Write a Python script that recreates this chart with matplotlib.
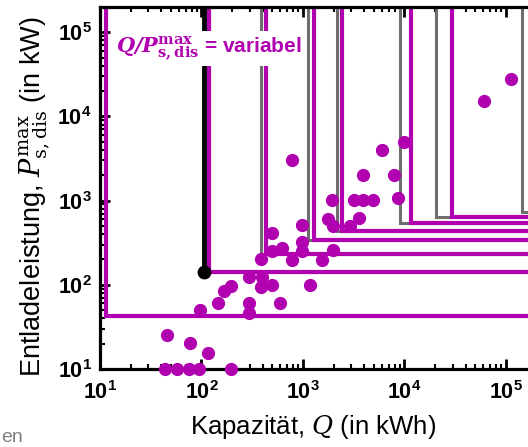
import matplotlib
matplotlib.use('Agg')
import matplotlib.pyplot as plt
import numpy as np

plt.rcParams['font.family'] = ['Liberation Sans', 'DejaVu Sans']
plt.rcParams['mathtext.fontset'] = 'custom'
plt.rcParams['mathtext.rm'] = 'DejaVu Serif'
plt.rcParams['mathtext.it'] = 'DejaVu Serif:italic'
plt.rcParams['mathtext.bf'] = 'DejaVu Serif:bold'
plt.rcParams['mathtext.sf'] = 'Liberation Sans:bold'
plt.rcParams['mathtext.bfit'] = 'DejaVu Serif:italic:bold'

MAGENTA = '#b000b0'
GRAY = '#6e6e6e'

# storage data points: capacity (kWh) and discharge power (kW)
cap = [112000, 60700, 9890, 6000, 780, 3900, 7890, 1930, 3180, 3900, 4900, 8630,
       1760, 1980, 2900, 3560, 977, 495, 977, 977, 621, 495, 385, 780, 1540, 1980,
       294, 394, 385, 495, 1170, 167, 195, 593, 96.6, 146, 294, 294,
       45.7, 77, 116, 43.6, 57.4, 75.4, 94.4, 195]
power = [27900, 15300, 4970, 3990, 3030, 2010, 2010, 1010, 1010, 1010, 1010, 1070,
         603, 497, 497, 620, 511, 410, 321, 250, 272, 250, 201, 196, 196, 258,
         123, 123, 93, 99, 99, 84, 96, 60, 49.7, 60, 60, 45.8,
         25.1, 20.1, 15.3, 10, 10, 10, 10, 10]

# corners of the L-shaped limits (Q, P)
mag_q = [11.5, 118.6, 431, 1283, 2421, 11590, 29400, 188700]
mag_p = [42.2, 141, 231, 339, 434, 540, 636, 730]
gray_q = [385, 1120, 2163, 9040, 20400, 143900]
gray_p = [231, 339, 434, 540, 636, 730]
black_q = 106
black_p = 141

xmin, xmax = 10, 10**5.5
ymin, ymax = 10, 10**5.3

fig = plt.figure(figsize=(5.28, 4.47), dpi=100)
ax = fig.add_axes([0.1894, 0.1745, 0.865, 0.8098])
ax.set_xscale('log')
ax.set_yscale('log')
ax.set_xlim(xmin, xmax)
ax.set_ylim(ymin, ymax)

for q, p in zip(gray_q, gray_p):
    ax.plot([q, q, xmax], [ymax, p, p], color=GRAY, lw=2.2, solid_joinstyle='miter')
for q, p in zip(mag_q, mag_p):
    ax.plot([q, q, xmax], [ymax, p, p], color=MAGENTA, lw=3.0, solid_joinstyle='miter')

ax.plot([black_q, black_q], [ymax, black_p], color='black', lw=3.5)
ax.plot([black_q], [black_p], 'o', color='black', ms=9)

ax.plot(cap, power, 'o', color=MAGENTA, ms=8.5, mec=MAGENTA, clip_on=False, zorder=3)

ax.text(0.035, 0.886, r'$\mathbfit{Q/P}^{\mathbf{max}}_{\mathbf{s,dis}}$ = variabel',
        transform=ax.transAxes, color=MAGENTA, fontsize=15, fontweight='bold',
        va='center', ha='left',
        bbox=dict(facecolor='white', edgecolor='none', boxstyle='square,pad=0.15'))

ticks = [10, 100, 1e3, 1e4, 1e5]
labels = [r'$\mathsf{10^{%d}}$' % i for i in range(1, 6)]
ax.set_xticks(ticks)
ax.set_xticklabels(labels)
ax.set_yticks(ticks)
ax.set_yticklabels(labels)
ax.tick_params(which='both', direction='in', top=True, right=True, labelsize=15.5)
ax.tick_params(which='major', length=7, width=2)
ax.tick_params(which='minor', length=3.5, width=1.5)
ax.tick_params(axis='x', pad=9)
ax.tick_params(axis='y', pad=6)

for s in ax.spines.values():
    s.set_linewidth(2.3)
    s.set_color('black')

ax.set_xlabel(r'Kapazität, $Q$ (in kWh)', fontsize=18.5)
ax.xaxis.set_label_coords(0.466, -0.122)
ax.set_ylabel(r'Entladeleistung, $P^{\mathrm{max}}_{\mathrm{s,dis}}$ (in kW)', fontsize=19.5)
ax.yaxis.set_label_coords(-0.104, 0.475)

fig.text(0.002, 0.012, 'en', color='#808080', fontsize=14, va='baseline')

fig.savefig('out.png', dpi=100)
